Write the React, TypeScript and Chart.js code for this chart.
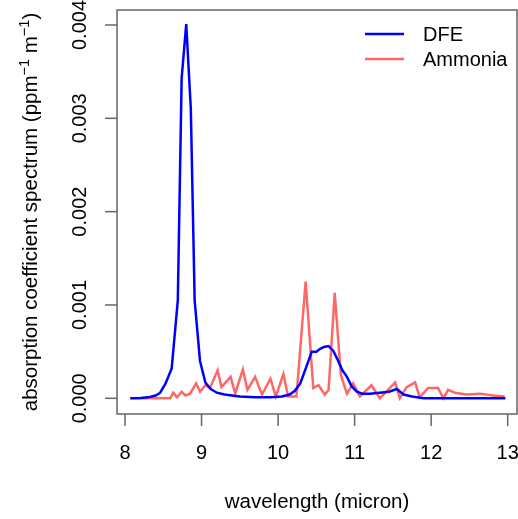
import React, { useEffect, useRef } from "react";
import { Chart, registerables } from "chart.js";

Chart.register(...registerables);

// ---- data ----
const xTicks = [8, 9, 10, 11, 12, 13];
const xTickLabels = ["8", "9", "10", "11", "12", "13"];
const yTicks = [0, 0.001, 0.002, 0.003, 0.004];
const yTickLabels = ["0.000", "0.001", "0.002", "0.003", "0.004"];

const dfeX = [8.07, 8.2, 8.3, 8.4, 8.46, 8.53, 8.61, 8.69, 8.74, 8.8, 8.86, 8.91, 8.98, 9.05, 9.12, 9.2, 9.3, 9.5, 9.7, 9.9, 10.05, 10.15, 10.22, 10.29, 10.37, 10.44, 10.5, 10.55, 10.6, 10.66, 10.72, 10.78, 10.84, 10.9, 10.96, 11.03, 11.1, 11.2, 11.33, 11.45, 11.55, 11.64, 11.75, 11.9, 12.2, 12.5, 12.8, 12.97];
const dfeY = [0, 0.000003, 0.00001, 0.00003, 0.00006, 0.00016, 0.00032, 0.00105, 0.00343, 0.00401, 0.0031, 0.00105, 0.0004, 0.00017, 0.0001, 0.00006, 0.00004, 0.00002, 0.00001, 0.00001, 0.00002, 0.00004, 0.00008, 0.00016, 0.00034, 0.0005, 0.0005, 0.00053, 0.00055, 0.00056, 0.00051, 0.00041, 0.0003, 0.00023, 0.00013, 0.00007, 0.00005, 0.00005, 0.00006, 0.00007, 0.0001, 0.00004, 0.00002, 0, 0, 0, 0, 0];

const ammX = [8.07, 8.3, 8.5, 8.59, 8.63, 8.68, 8.74, 8.79, 8.85, 8.93, 8.98, 9.05, 9.11, 9.21, 9.26, 9.38, 9.44, 9.54, 9.6, 9.7, 9.79, 9.9, 9.97, 10.07, 10.13, 10.24, 10.36, 10.46, 10.53, 10.61, 10.66, 10.74, 10.82, 10.9, 10.98, 11.07, 11.22, 11.33, 11.53, 11.59, 11.68, 11.79, 11.85, 11.96, 12.09, 12.16, 12.22, 12.31, 12.46, 12.64, 12.81, 12.96];
const ammY = [0, 0, 0, 0, 0.00006, 0.00001, 0.00007, 0.00003, 0.00005, 0.00016, 0.00007, 0.00014, 0.00011, 0.0003, 0.00012, 0.00023, 0.00005, 0.00031, 0.00009, 0.00023, 0.00004, 0.00021, 0.00002, 0.00026, 0.00002, 0.00002, 0.00125, 0.00011, 0.00014, 0.00004, 0.00009, 0.00113, 0.00025, 0.00005, 0.00016, 0.00002, 0.00014, 0, 0.00017, 0, 0.00012, 0.00017, 0.00001, 0.00011, 0.00011, 0, 0.00009, 0.00006, 0.00004, 0.00005, 0.00003, 0.00002];

const seriesNames = ["DFE", "Ammonia"];
const seriesColors = ["#0000ff", "rgba(255,0,0,0.6)"];

const FONT = "'Liberation Sans', Arial, Helvetica, sans-serif";
const AXIS_COLOR = "#666666";

const decorPlugin = {
  id: "rdecor",
  afterDraw(chart: any) {
    const ctx = chart.ctx as CanvasRenderingContext2D;
    const area = chart.chartArea;
    const xs = chart.scales.x;
    const ys = chart.scales.y;
    ctx.save();
    // box
    ctx.strokeStyle = AXIS_COLOR;
    ctx.lineWidth = 1.5;
    ctx.strokeRect(area.left, area.top, area.right - area.left, area.bottom - area.top);
    // x ticks
    ctx.fillStyle = "#000";
    ctx.font = `20px ${FONT}`;
    ctx.textAlign = "center";
    ctx.textBaseline = "alphabetic";
    xTicks.forEach((v, i) => {
      const px = xs.getPixelForValue(v);
      ctx.beginPath();
      ctx.moveTo(px, area.bottom);
      ctx.lineTo(px, area.bottom + 12);
      ctx.stroke();
      ctx.fillText(xTickLabels[i], px, 459);
    });
    // y ticks
    yTicks.forEach((v, i) => {
      const py = ys.getPixelForValue(v);
      ctx.beginPath();
      ctx.moveTo(area.left, py);
      ctx.lineTo(area.left - 12, py);
      ctx.stroke();
      ctx.save();
      ctx.translate(86, py);
      ctx.rotate(-Math.PI / 2);
      ctx.fillText(yTickLabels[i], 0, 0);
      ctx.restore();
    });
    // x title
    ctx.font = `20.5px ${FONT}`;
    ctx.fillText("wavelength (micron)", (area.left + area.right) / 2, 508);
    // y title with superscripts
    const big = `20.5px ${FONT}`;
    const small = `14.5px ${FONT}`;
    const parts: [string, boolean][] = [
      ["absorption coefficient spectrum (ppm", false],
      ["\u22121", true],
      [" m", false],
      ["\u22121", true],
      [")", false],
    ];
    let total = 0;
    const widths = parts.map(([t, sup]) => {
      ctx.font = sup ? small : big;
      const w = ctx.measureText(t).width;
      total += w;
      return w;
    });
    ctx.save();
    ctx.translate(36.5, (area.top + area.bottom) / 2);
    ctx.rotate(-Math.PI / 2);
    ctx.textAlign = "left";
    let cx = -total / 2;
    parts.forEach(([t, sup], i) => {
      ctx.font = sup ? small : big;
      ctx.fillText(t, cx, sup ? -8 : 0);
      cx += widths[i];
    });
    ctx.restore();
    // legend
    ctx.font = `20px ${FONT}`;
    ctx.textAlign = "left";
    ctx.textBaseline = "middle";
    const legY = [34, 59];
    seriesNames.forEach((name, i) => {
      ctx.strokeStyle = seriesColors[i];
      ctx.lineWidth = 2.5;
      ctx.beginPath();
      ctx.moveTo(365, legY[i]);
      ctx.lineTo(404, legY[i]);
      ctx.stroke();
      ctx.fillStyle = "#000";
      ctx.fillText(name, 423, legY[i] + 1);
    });
    ctx.restore();
  },
};

export default function App() {
  const ref = useRef<HTMLCanvasElement | null>(null);
  useEffect(() => {
    if (!ref.current) return;
    const chart = new Chart(ref.current, {
      type: "line",
      data: {
        datasets: [
          {
            label: seriesNames[0],
            data: dfeX.map((x, i) => ({ x, y: dfeY[i] })),
            borderColor: seriesColors[0],
            borderWidth: 2.5,
            pointRadius: 0,
            tension: 0,
            fill: false,
          },
          {
            label: seriesNames[1],
            data: ammX.map((x, i) => ({ x, y: ammY[i] })),
            borderColor: seriesColors[1],
            borderWidth: 2.5,
            pointRadius: 0,
            tension: 0,
            fill: false,
          },
        ],
      },
      options: {
        responsive: false,
        animation: false,
        devicePixelRatio: 1,
        layout: { padding: { left: 117, top: 10, right: 1, bottom: 105 } },
        plugins: { legend: { display: false }, tooltip: { enabled: false } },
        scales: {
          x: { type: "linear", display: false, min: 7.8955, max: 13.1215 },
          y: { type: "linear", display: false, min: -0.00016823, max: 0.0041607 },
        },
      },
      plugins: [decorPlugin],
    });
    return () => chart.destroy();
  }, []);
  return (
    <div style={{ position: "fixed", left: 0, top: 0, width: 518, height: 519, background: "#fff" }}>
      <canvas ref={ref} width={518} height={519} style={{ display: "block" }} />
    </div>
  );
}
